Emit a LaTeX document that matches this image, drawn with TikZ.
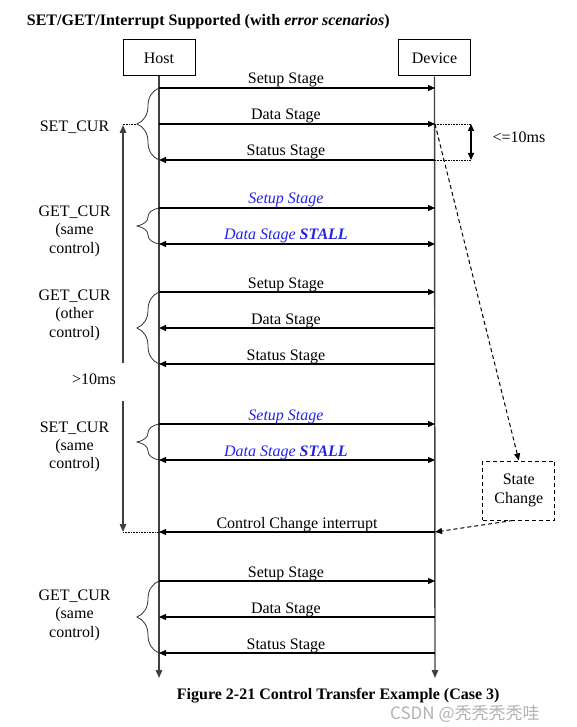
\documentclass[tikz,border=0pt]{standalone}
\usepackage{fontspec}
\setmainfont{Liberation Serif}
\newfontfamily\cjk{Noto Sans CJK SC}
\usetikzlibrary{arrows.meta,decorations.pathreplacing}
\definecolor{stallblue}{RGB}{35,35,230}
\begin{document}
\begin{tikzpicture}[x=1pt,y=-1pt,
  txt/.style={font=\fontsize{16}{19}\selectfont, inner sep=0pt},
  bx/.style={draw, line width=1pt, minimum width=72pt, minimum height=36pt, inner sep=0pt, font=\fontsize{16}{19}\selectfont},
  life/.style={draw=black!75, line width=1.4pt, -{Triangle[length=8pt,width=6.5pt]}},
  msg/.style={line width=1.1pt, -{Triangle[length=7pt,width=6pt]}},
  dmsg/.style={line width=1.1pt, {Triangle[length=7pt,width=6pt]}-{Triangle[length=7pt,width=6pt]}},
  lbl/.style={txt, anchor=base, yshift=4pt},
  blbl/.style={lbl, text=stallblue, font=\fontsize{16}{19}\selectfont\itshape},
  brc/.style={draw=black!80, line width=0.8pt, decorate, decoration={brace, amplitude=22pt}},
  side/.style={txt, anchor=base},
  dasharrow/.style={dash pattern=on 4pt off 3pt, line width=1pt, -{Triangle[length=7pt,width=6pt]}},
  dots/.style={densely dotted, line width=0.6pt},
  vline/.style={draw=black!75, line width=1.4pt},
]
\useasboundingbox (0,0) rectangle (576,727);

% title
\node[anchor=base west, inner sep=0pt, font=\bfseries\fontsize{16}{19}\selectfont] (title) at (26.7,26) {SET/GET/Interrupt Supported (with \textit{error scenarios})};

% boxes and lifelines
\node[bx] (host) at (159,58) {Host};
\node[bx] (dev) at (434.5,58) {Device};
\coordinate (hend) at (159,678);
\coordinate (dend) at (435,678);
\draw[life] (host.south) -- (hend);
\draw[life] (dev.south) -- (dend);

% message points
\foreach \n/\y in {1/88,2/124,3/160,4/208,5/244,6/292,7/328,8/364,9/424,10/460,11/532,12/581,13/617,14/653}{
  \coordinate (h\n) at (159,\y);
  \coordinate (d\n) at (435,\y);
}

% SET_CUR
\draw[msg] (h1) -- (d1) node[lbl, pos=0.46] (l1) {Setup Stage};
\draw[msg] (h2) -- (d2) node[lbl, pos=0.46] (l2) {Data Stage};
\draw[msg] (d3) -- (h3) node[lbl, pos=0.54] (l3) {Status Stage};
\draw[brc] (h3) -- (h1);

% GET_CUR same control
\draw[msg] (h4) -- (d4) node[blbl, pos=0.46] (l4) {Setup Stage};
\draw[dmsg] (h5) -- (d5) node[blbl, pos=0.46] (l5) {Data Stage \textbf{STALL}};
\draw[brc] (h5) -- (h4);

% GET_CUR other control
\draw[msg] (h6) -- (d6) node[lbl, pos=0.46] (l6) {Setup Stage};
\draw[msg] (d7) -- (h7) node[lbl, pos=0.54] (l7) {Data Stage};
\draw[msg] (d8) -- (h8) node[lbl, pos=0.54] (l8) {Status Stage};
\draw[brc] (h8) -- (h6);

% SET_CUR same control
\draw[msg] (h9) -- (d9) node[blbl, pos=0.46] (l9) {Setup Stage};
\draw[dmsg] (h10) -- (d10) node[blbl, pos=0.46] (l10) {Data Stage \textbf{STALL}};
\draw[brc] (h10) -- (h9);

% interrupt
\draw[msg] (d11) -- (h11) node[lbl, pos=0.5] (l11) {Control Change interrupt};

% final GET_CUR
\draw[msg] (h12) -- (d12) node[lbl, pos=0.46] (l12) {Setup Stage};
\draw[msg] (d13) -- (h13) node[lbl, pos=0.54] (l13) {Data Stage};
\draw[msg] (d14) -- (h14) node[lbl, pos=0.54] (l14) {Status Stage};
\draw[brc] (h14) -- (h12);

% left labels
\node[side] (s1) at (74.5,132) {SET\_CUR};
\node[side] (s2a) at (74.5,216) {GET\_CUR};
\node[side] (s2b) at (74.5,234) {(same};
\node[side] (s2c) at (74.5,253) {control)};
\node[side] (s3a) at (74.5,300) {GET\_CUR};
\node[side] (s3b) at (74.5,318) {(other};
\node[side] (s3c) at (74.5,337) {control)};
\node[side] (ms) at (94,384) {>10ms};
\node[side] (s4a) at (74.5,432) {SET\_CUR};
\node[side] (s4b) at (74.5,450) {(same};
\node[side] (s4c) at (74.5,468) {control)};
\node[side] (s5a) at (74.5,600) {GET\_CUR};
\node[side] (s5b) at (74.5,618) {(same};
\node[side] (s5c) at (74.5,637) {control)};

% >10ms timing arrows
\coordinate (bt1) at (136,124);
\coordinate (upb) at (123,363);
\coordinate (upt) at (123,125);
\coordinate (dnt) at (123,401);
\coordinate (dnb) at (123,532);
\draw[vline, -{Triangle[length=8pt,width=6.5pt]}] (upb) -- (upt);
\draw[vline, -{Triangle[length=8pt,width=6.5pt]}] (dnt) -- (dnb);
\draw[dots] (bt1) -- (upt |- bt1);
\draw[dots] (dnb) -- (h11);

% <=10ms
\coordinate (r1) at (471,124);
\coordinate (r2) at (471,160);
\draw[dots] (d2) -- (r1);
\draw[dots] (d3) -- (r2);
\draw[line width=1.4pt, {Triangle[length=7pt,width=6pt]}-{Triangle[length=7pt,width=6pt]}] (r1) -- (r2);
\node[side] (le) at (519,143) {<=10ms};

% state change
\node[draw, dash pattern=on 4pt off 3pt, line width=1pt, minimum width=72pt, minimum height=59pt, align=center, txt] (state) at (518.8,490.5) {State\\Change};
\draw[dasharrow] (d2) -- (state.north);
\draw[dasharrow] ([xshift=-6pt]state.south) -- (d11);

% caption
\node[anchor=base west, inner sep=0pt, font=\bfseries\fontsize{16}{19}\selectfont] (cap) at (176.7,699) {Figure 2-21 Control Transfer Example (Case 3)};
\node[anchor=base west, inner sep=0pt, text=black!30, font=\cjk\fontsize{17}{20}\selectfont] (wm) at (390,719) {CSDN @秃秃秃秃哇};
\end{tikzpicture}
\end{document}
